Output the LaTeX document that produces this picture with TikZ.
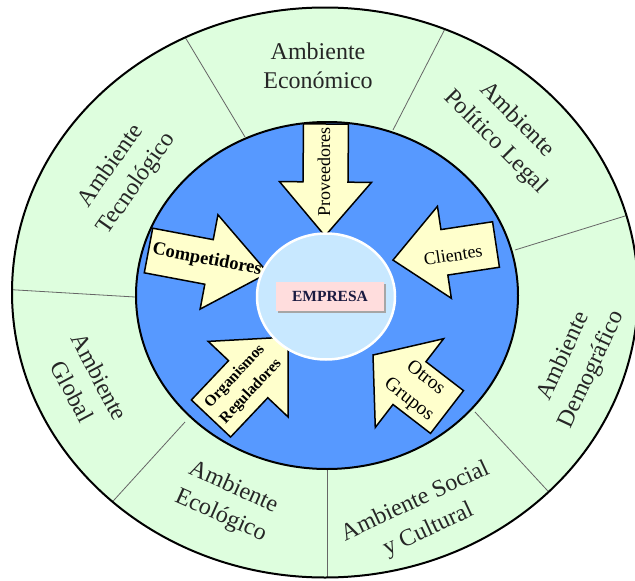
\documentclass[tikz,border=0pt]{standalone}
\usepackage{fontspec}
\setmainfont{Liberation Serif}
\usepackage{tikz}
\usetikzlibrary{shadows}
\definecolor{verde}{HTML}{DEFEDE}
\definecolor{azul}{HTML}{5799FF}
\definecolor{amarillo}{HTML}{FFFFCC}
\definecolor{celeste}{HTML}{C8E8FF}
\definecolor{rosa}{HTML}{FFDDDD}
\definecolor{marino}{HTML}{1A1A40}
\tikzset{
ambiente/.style={align=center,text=black!85,font=\fontsize{24}{31}\selectfont},
actor/.style={align=center,font=\fontsize{18}{22}\selectfont},
flecha/.style={fill=amarillo,draw=black,line width=1.5pt},
divisor/.style={draw=black!60,line width=0.8pt},
}

\begin{document}
\begin{tikzpicture}[x=1pt,y=-1pt]
\useasboundingbox (0,0) rectangle (635,581);
\begin{scope}
\clip (325,292.5) ellipse (313 and 285);
\fill[verde] (325,292.5) ellipse (313 and 285);
\foreach \xa/\ya/\xb/\yb in {245/137/182/32,393/130/448/23,515/250/638/212,475/412/558/502,327/469/327/590,185/422/105/510,135/297/0/289}
\draw[divisor] (\xa,\ya) -- (\xb,\yb);
\end{scope}
\draw[line width=2pt] (325,292.5) ellipse (313 and 285);
\filldraw[fill=azul,line width=2pt] (327,295.5) ellipse (191 and 173.5);
\foreach \x/\y/\a/\l/\s/\h/\k in {326/124/-90.5/112/22.5/46/54,148.5/250.5/-10.7/121.6/22.7/48/60,496/244.5/188.6/104.2/23/46.5/52,211/418.5/46.6/112.1/27/55/58,447/412/142.4/93.4/27/56/46}
\filldraw[flecha,shift={(\x,\y)},rotate=\a] (0,-\s) -- (\l-\k,-\s) -- (\l-\k,-\h) -- (\l,0) -- (\l-\k,\h) -- (\l-\k,\s) -- (0,\s) -- cycle;
\filldraw[fill=celeste,draw=white,line width=2.5pt] (326,296.5) ellipse (69 and 63);
\node[fill=rosa,minimum width=108pt,minimum height=29pt,text=marino,font=\bfseries\fontsize{15.5}{18}\selectfont,drop shadow={shadow xshift=2pt,shadow yshift=-2pt,fill=black!35,opacity=1}] (empresa) at (330,296.5) {EMPRESA};
\node[ambiente,font=\fontsize{24}{29}\selectfont] (economico) at (318,66) {Ambiente\\Económico};
\node[ambiente,rotate=-45] (politico) at (506,131) {Ambiente\\Político Legal};
\node[ambiente,rotate=65] (demografico) at (578,363) {Ambiente\\Demográfico};
\node[ambiente,rotate=25] (social) at (422,516) {Ambiente Social\\y Cultural};
\node[ambiente,rotate=-24] (ecologico) at (227,502) {Ambiente\\Ecológico};
\node[ambiente,rotate=-62] (global) at (86,384) {Ambiente\\Global};
\node[ambiente,rotate=55] (tecnologico) at (124,175) {Ambiente\\Tecnológico};
\node[actor,rotate=90] (proveedores) at (324,172) {Proveedores};
\node[actor,font=\bfseries\fontsize{18.5}{22}\selectfont,rotate=-11] (competidores) at (207,260) {Competidores};
\node[actor,rotate=8.6] (clientes) at (453,255) {Clientes};
\node[actor,font=\bfseries\fontsize{15.5}{22}\selectfont,rotate=47] (organismos) at (243,384) {Organismos\\Reguladores};
\node[actor,font=\fontsize{19.5}{27}\selectfont,rotate=-38] (otros) at (417,389) {Otros\\Grupos};
\end{tikzpicture}
\end{document}
